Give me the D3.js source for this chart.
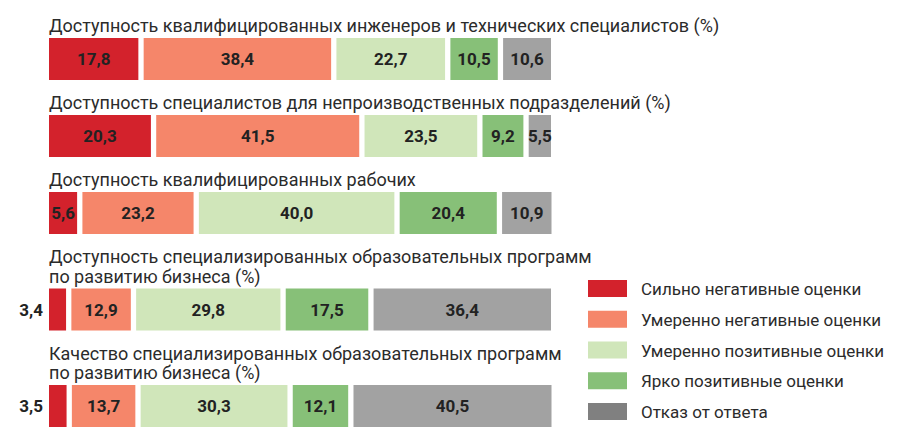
<!DOCTYPE html>
<html>
<head>
<meta charset="utf-8">
<script src="https://cdn.jsdelivr.net/npm/d3@7"></script>
<style>
  body { margin: 0; background: #fff; }
  text { font-family: Roboto, "Noto Sans", sans-serif; }
</style>
</head>
<body>
<script>
// rows of the chart (title lines) and the answers in each row, in %
var rowTitles = [
  ["Доступность квалифицированных инженеров и технических специалистов (%)"],
  ["Доступность специалистов для непроизводственных подразделений (%)"],
  ["Доступность квалифицированных рабочих"],
  ["Доступность специализированных образовательных программ", "по развитию бизнеса (%)"],
  ["Качество специализированных образовательных программ", "по развитию бизнеса (%)"]
];

var categories = [
  "Сильно негативные оценки",
  "Умеренно негативные оценки",
  "Умеренно позитивные оценки",
  "Ярко позитивные оценки",
  "Отказ от ответа"
];

var strongNeg = [17.8, 20.3, 5.6, 3.4, 3.5];
var modNeg    = [38.4, 41.5, 23.2, 12.9, 13.7];
var modPos    = [22.7, 23.5, 40.0, 29.8, 30.3];
var strongPos = [10.5, 9.2, 20.4, 17.5, 12.1];
var noAnswer  = [10.6, 5.5, 10.9, 36.4, 40.5];

var series = [strongNeg, modNeg, modPos, strongPos, noAnswer];

var barColors    = ["#d3222c", "#f5866a", "#d0e6ba", "#87c078", "#a2a2a2"];
var legendColors = ["#d3222c", "#f5866a", "#d0e6ba", "#87c078", "#808080"];

var width = 912, height = 433;
var barH = 42, gap = 5.3, lineH = 19.5;

var svg = d3.select("body").append("svg")
  .attr("width", width)
  .attr("height", height);

var x = d3.scaleLinear().domain([0, 100]).range([49, 551]);
var color = d3.scaleOrdinal().domain(categories).range(barColors);
var legendColor = d3.scaleOrdinal().domain(categories).range(legendColors);

// where each bar goes: title lines push the next bar down
var tops = [];
var t = 38;
rowTitles.forEach(function(lines, i) {
  if (i > 0) t += barH + 15.5 + lines.length * lineH;
  tops.push(t);
});

var rows = rowTitles.map(function(lines, i) {
  var cum = 0;
  var segs = series.map(function(s, k) {
    var seg = { key: categories[k], value: s[i], x0: cum, x1: cum + s[i], k: k };
    cum += s[i];
    return seg;
  });
  return { lines: lines, top: tops[i], segs: segs };
});

var row = svg.selectAll("g.row")
  .data(rows)
  .enter().append("g")
  .attr("class", "row")
  .attr("transform", function(d) { return "translate(0," + d.top + ")"; });

// titles
row.each(function(d) {
  var g = d3.select(this);
  var n = d.lines.length;
  d.lines.forEach(function(line, j) {
    g.append("text")
      .attr("x", x(0))
      .attr("y", -6 - (n - 1 - j) * lineH)
      .attr("font-size", 18)
      .attr("fill", "#2b2b2b")
      .text(line);
  });
});

// bar segments
row.selectAll("rect")
  .data(function(d) { return d.segs; })
  .enter().append("rect")
  .attr("x", function(d) { return x(d.x0) + (d.k > 0 ? gap : 0); })
  .attr("y", 0)
  .attr("width", function(d) { return x(d.x1) - x(d.x0) - (d.k > 0 ? gap : 0); })
  .attr("height", barH)
  .attr("fill", function(d) { return color(d.key); });

// value labels, tiny segments get theirs on the left
var fmt = function(v) { return d3.format(".1f")(v).replace(".", ","); };

row.selectAll("text.val")
  .data(function(d) { return d.segs; })
  .enter().append("text")
  .attr("class", "val")
  .attr("x", function(d) {
    if (d.value < 5) return x(d.x0) - 6;
    return (x(d.x0) + (d.k > 0 ? gap : 0) + x(d.x1)) / 2;
  })
  .attr("y", barH / 2 + 6)
  .attr("text-anchor", function(d) { return d.value < 5 ? "end" : "middle"; })
  .attr("font-size", 17)
  .attr("font-weight", "bold")
  .attr("fill", "#222")
  .text(function(d) { return fmt(d.value); });

// legend
var ly = d3.scalePoint().domain(categories).range([280, 403]);

var legend = svg.append("g").selectAll("g")
  .data(categories)
  .enter().append("g")
  .attr("transform", function(d) { return "translate(588," + ly(d) + ")"; });

legend.append("rect")
  .attr("width", 39)
  .attr("height", 17)
  .attr("fill", function(d) { return legendColor(d); });

legend.append("text")
  .attr("x", 53)
  .attr("y", 15)
  .attr("font-size", 17)
  .attr("fill", "#2b2b2b")
  .text(function(d) { return d; });
</script>
</body>
</html>
